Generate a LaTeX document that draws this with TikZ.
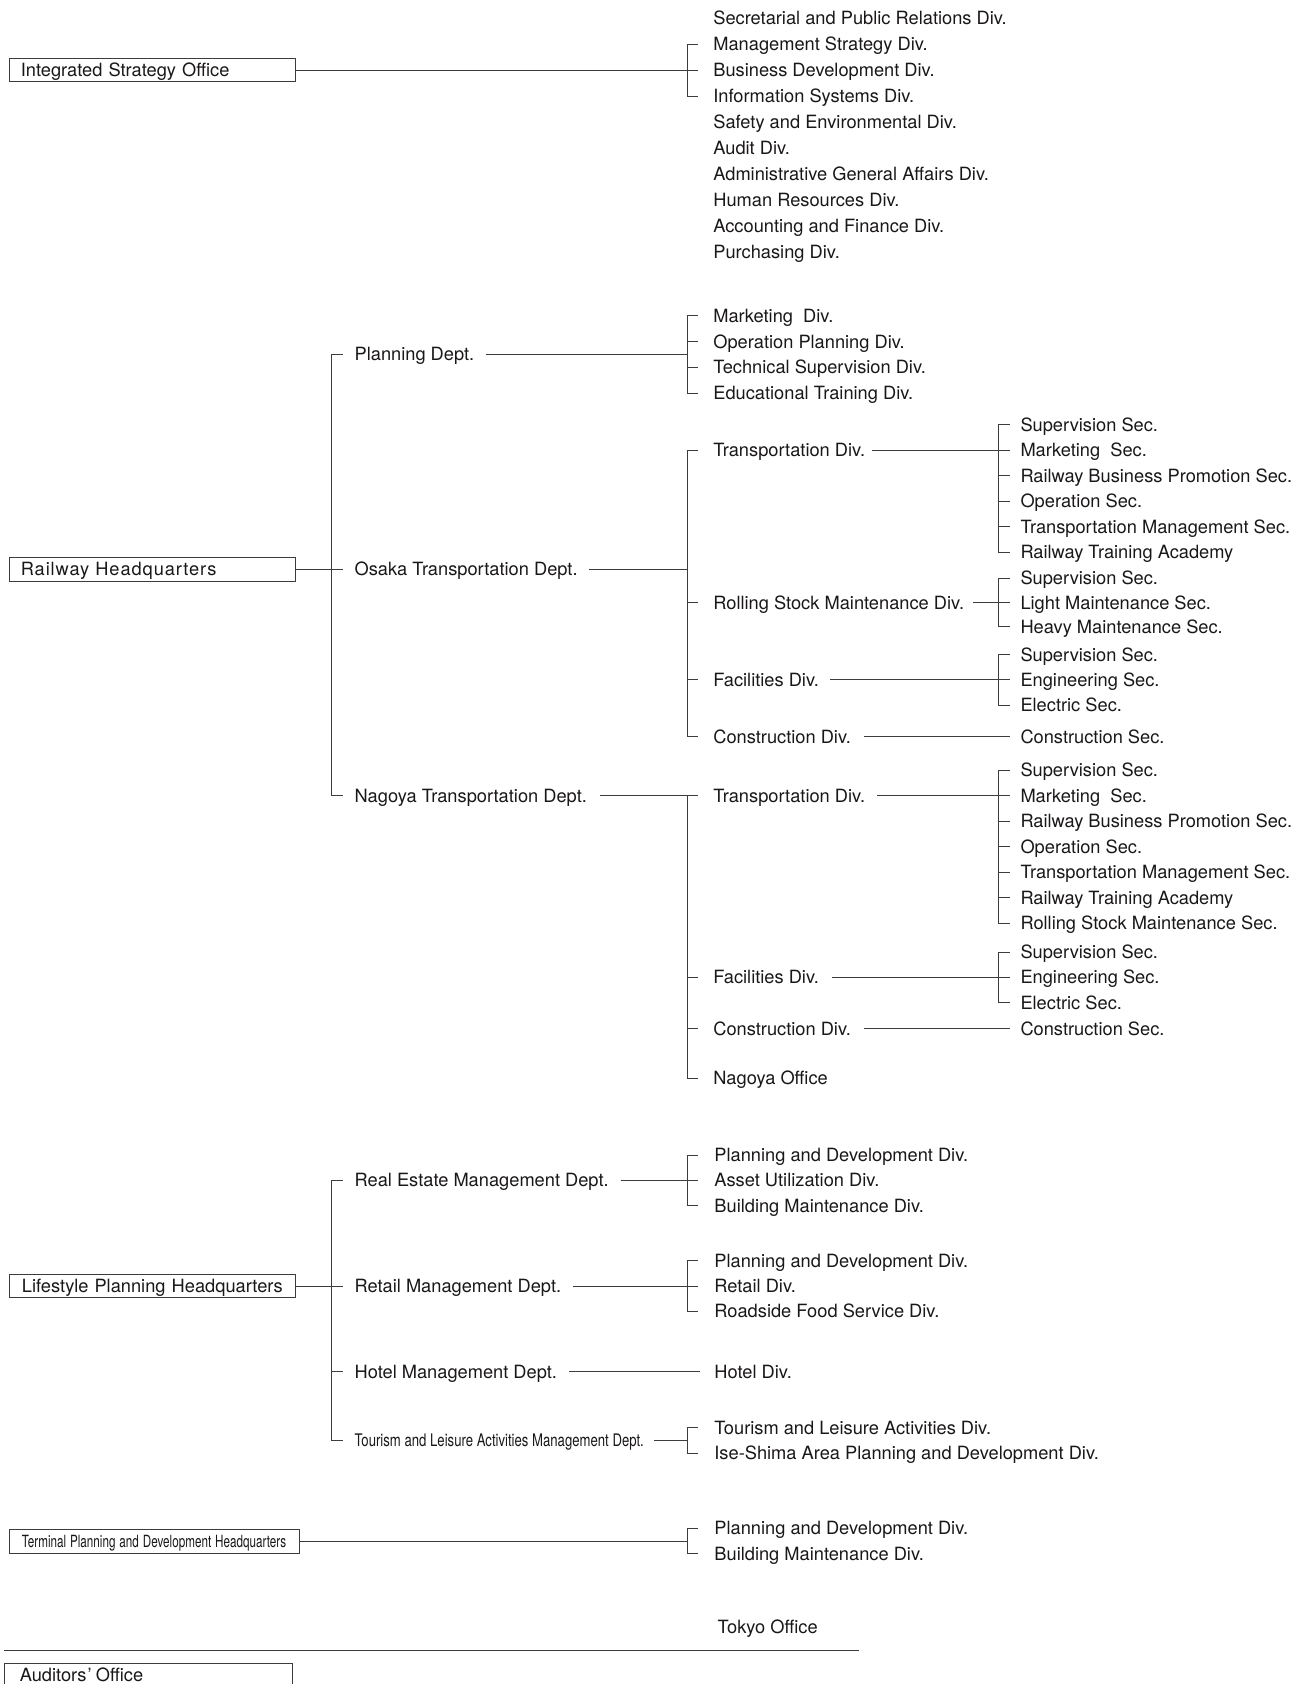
\documentclass[tikz,border=0pt]{standalone}
\usepackage{fontspec}
\setmainfont{TeX Gyre Heros}
\usepackage{graphicx}
\usetikzlibrary{calc}
\definecolor{inkc}{HTML}{1A1718}
\definecolor{linec}{HTML}{3C3C3C}
\begin{document}
\begin{tikzpicture}[x=1pt,y=-1pt,
  every node/.style={font=\fontsize{17}{20}\selectfont, text=inkc},
  lbl/.style={anchor=west, inner sep=0pt, text height=12.2pt, text depth=0pt},
  hqbox/.style={draw=linec, line width=0.9pt, anchor=west, inner xsep=11pt, inner ysep=0pt,
    minimum height=22pt, text height=12.2pt, text depth=0pt, text width=245pt, align=left},
  ln/.style={draw=linec, line width=0.9pt},
]
\useasboundingbox (0,0) rectangle (1214.2,1568);
% bracket columns
\coordinate (R0) at (309,0);
\coordinate (L1) at (640,0);
\coordinate (L2) at (930,0);

% ---------------- Integrated Strategy Office
\node[hqbox] (isb) at (8,65.3) {Integrated Strategy Office};
\foreach \t [count=\k] in {Secretarial and Public Relations Div., Management Strategy Div.,
  Business Development Div., Information Systems Div., Safety and Environmental Div.,
  Audit Div., Administrative General Affairs Div., Human Resources Div.,
  Accounting and Finance Div., Purchasing Div.}
  \node[lbl] (i\k) at (664,{17+24.15*(\k-1)}) {\t};
\draw[ln] (isb.east) -- (isb.east -| L1) -- ++(10,0);
\draw[ln] (i2.west -| L1) ++(10,0) -- (i2.west -| L1) -- (i4.west -| L1) -- ++(10,0);

% ---------------- Railway Headquarters
\node[hqbox] (rhb) at (8,530) {{\addfontfeature{LetterSpace=5}Railway Headquarters}};
\node[lbl] (pd) at (330,330) {Planning Dept.};
\node[lbl] (od) at (330,530) {Osaka Transportation Dept.};
\node[lbl] (nd) at (330,741) {Nagoya Transportation Dept.};
\draw[ln] (rhb.east) -- (rhb.east -| R0) -- ++(10,0);
\draw[ln] (pd.west -| R0) ++(10,0) -- (pd.west -| R0) -- (nd.west -| R0) -- ++(10,0);

% Planning Dept.
\foreach \t [count=\k] in {Marketing~ Div., Operation Planning Div., Technical Supervision Div., Educational Training Div.}
  \node[lbl] (p\k) at (664,{294+24*(\k-1)}) {\t};
\draw[ln] ([xshift=11]pd.east) -- (pd.east -| L1);
\draw[ln] (p1.west -| L1) ++(10,0) -- (p1.west -| L1) -- (p4.west -| L1) -- ++(10,0);
\draw[ln] (p2.west -| L1) -- ++(10,0);
\draw[ln] (p3.west -| L1) -- ++(10,0);

% Osaka Transportation Dept.
\node[lbl] (ot) at (664,419.25) {Transportation Div.};
\node[lbl] (orl) at (664,561) {Rolling Stock Maintenance Div.};
\node[lbl] (ofa) at (664,633) {Facilities Div.};
\node[lbl] (oco) at (664,686) {Construction Div.};
\draw[ln] ([xshift=10]od.east) -- (od.east -| L1);
\draw[ln] (ot.west -| L1) ++(10,0) -- (ot.west -| L1) -- (oco.west -| L1) -- ++(10,0);
\draw[ln] (orl.west -| L1) -- ++(10,0);
\draw[ln] (ofa.west -| L1) -- ++(10,0);

\foreach \t [count=\k] in {Supervision Sec., Marketing~ Sec., Railway Business Promotion Sec.,
  Operation Sec., Transportation Management Sec., Railway Training Academy}
  \node[lbl] (os\k) at (950,{395.5+23.75*(\k-1)}) {\t};
\draw[ln] ([xshift=6]ot.east) -- (ot.east -| L2) -- ++(10,0);
\draw[ln] (os1.west -| L2) ++(10,0) -- (os1.west -| L2) -- (os6.west -| L2) -- ++(10,0);
\foreach \k in {3,4,5} \draw[ln] (os\k.west -| L2) -- ++(10,0);

\foreach \t [count=\k] in {Supervision Sec., Light Maintenance Sec., Heavy Maintenance Sec.}
  \node[lbl] (or\k) at (950,{538.5+22.5*(\k-1)}) {\t};
\draw[ln] ([xshift=8]orl.east) -- (orl.east -| L2) -- ++(10,0);
\draw[ln] (or1.west -| L2) ++(10,0) -- (or1.west -| L2) -- (or3.west -| L2) -- ++(10,0);

\foreach \t [count=\k] in {Supervision Sec., Engineering Sec., Electric Sec.}
  \node[lbl] (of\k) at (950,{609.5+23.5*(\k-1)}) {\t};
\draw[ln] ([xshift=10]ofa.east) -- (ofa.east -| L2) -- ++(10,0);
\draw[ln] (of1.west -| L2) ++(10,0) -- (of1.west -| L2) -- (of3.west -| L2) -- ++(10,0);

\node[lbl] (ocs) at (950,686) {Construction Sec.};
\draw[ln] ([xshift=12]oco.east) -- ([xshift=-10]ocs.west);

% Nagoya Transportation Dept.
\node[lbl] (nt) at (664,741) {Transportation Div.};
\node[lbl] (nfa) at (664,910) {Facilities Div.};
\node[lbl] (nco) at (664,958) {Construction Div.};
\node[lbl] (nof) at (664,1004) {Nagoya Office};
\draw[ln] ([xshift=12]nd.east) -- ([xshift=-14]nt.west);
\draw[ln] (nt.west -| L1) -- (nof.west -| L1) -- ++(10,0);
\draw[ln] (nfa.west -| L1) -- ++(10,0);
\draw[ln] (nco.west -| L1) -- ++(10,0);

\foreach \t [count=\k] in {Supervision Sec., Marketing~ Sec., Railway Business Promotion Sec.,
  Operation Sec., Transportation Management Sec., Railway Training Academy, Rolling Stock Maintenance Sec.}
  \node[lbl] (ns\k) at (950,{717.3+23.7*(\k-1)}) {\t};
\draw[ln] ([xshift=11]nt.east) -- (nt.east -| L2) -- ++(10,0);
\draw[ln] (ns1.west -| L2) ++(10,0) -- (ns1.west -| L2) -- (ns7.west -| L2) -- ++(10,0);
\foreach \k in {3,4,5,6} \draw[ln] (ns\k.west -| L2) -- ++(10,0);

\foreach \t [count=\k] in {Supervision Sec., Engineering Sec., Electric Sec.}
  \node[lbl] (nf\k) at (950,{886.5+23.5*(\k-1)}) {\t};
\draw[ln] ([xshift=12]nfa.east) -- (nfa.east -| L2) -- ++(10,0);
\draw[ln] (nf1.west -| L2) ++(10,0) -- (nf1.west -| L2) -- (nf3.west -| L2) -- ++(10,0);

\node[lbl] (ncs) at (950,958) {Construction Sec.};
\draw[ln] ([xshift=12]nco.east) -- ([xshift=-10]ncs.west);

% ---------------- Lifestyle Planning Headquarters
\node[hqbox, inner xsep=12pt, text width=243pt] (lpb) at (8,1197.5) {Lifestyle Planning Headquarters};
\node[lbl] (re) at (330,1099) {Real Estate Management Dept.};
\node[lbl] (rt) at (330,1197.5) {Retail Management Dept.};
\node[lbl] (ho) at (330,1277) {Hotel Management Dept.};
\node[lbl] (tl) at (330,1341) {\scalebox{0.72}[0.95]{Tourism and Leisure Activities Management Dept.}};
\draw[ln] (lpb.east) -- (lpb.east -| R0) -- ++(10,0);
\draw[ln] (re.west -| R0) ++(10,0) -- (re.west -| R0) -- (tl.west -| R0) -- ++(10,0);
\draw[ln] (ho.west -| R0) -- ++(10,0);

\foreach \t [count=\k] in {Planning and Development Div., Asset Utilization Div., Building Maintenance Div.}
  \node[lbl] (r\k) at (665,{1075.5+23.5*(\k-1)}) {\t};
\draw[ln] ([xshift=11]re.east) -- (re.east -| L1) -- ++(10,0);
\draw[ln] (r1.west -| L1) ++(10,0) -- (r1.west -| L1) -- (r3.west -| L1) -- ++(10,0);

\foreach \t [count=\k] in {Planning and Development Div., Retail Div., Roadside Food Service Div.}
  \node[lbl] (t\k) at (665,{1174+23.5*(\k-1)}) {\t};
\draw[ln] ([xshift=11]rt.east) -- (rt.east -| L1) -- ++(10,0);
\draw[ln] (t1.west -| L1) ++(10,0) -- (t1.west -| L1) -- (t3.west -| L1) -- ++(10,0);

\node[lbl] (hd) at (665,1277) {Hotel Div.};
\draw[ln] ([xshift=11]ho.east) -- ([xshift=-13]hd.west);

\node[lbl] (l1) at (665,1329.5) {Tourism and Leisure Activities Div.};
\node[lbl] (l2) at (665,1353) {Ise-Shima Area Planning and Development Div.};
\draw[ln] ([xshift=9]tl.east) -- (tl.east -| L1);
\draw[ln] (l1.west -| L1) ++(10,0) -- (l1.west -| L1) -- (l2.west -| L1) -- ++(10,0);

% ---------------- Terminal Planning and Development Headquarters
\node[hqbox, text width=248pt, align=center] (tpb) at (8,1435)
  {\scalebox{0.64}[0.92]{Terminal Planning and Development Headquarters}};
\node[lbl] (m1) at (665,1423) {Planning and Development Div.};
\node[lbl] (m2) at (665,1446.5) {Building Maintenance Div.};
\draw[ln] (tpb.east) -- (tpb.east -| L1);
\draw[ln] (m1.west -| L1) ++(10,0) -- (m1.west -| L1) -- (m2.west -| L1) -- ++(10,0);

% ---------------- Tokyo Office, separator, Auditors' Office
\node[lbl] (tko) at (668,1515) {Tokyo Office};
\coordinate (sepL) at (4,1537);
\coordinate (sepR) at (800,1537);
\draw[ln] (sepL) -- (sepR);
\node[hqbox, inner xsep=14pt, text width=240pt] (aob) at (4,1560) {Auditors\kern1pt’\kern4pt Office};
\end{tikzpicture}
\end{document}
